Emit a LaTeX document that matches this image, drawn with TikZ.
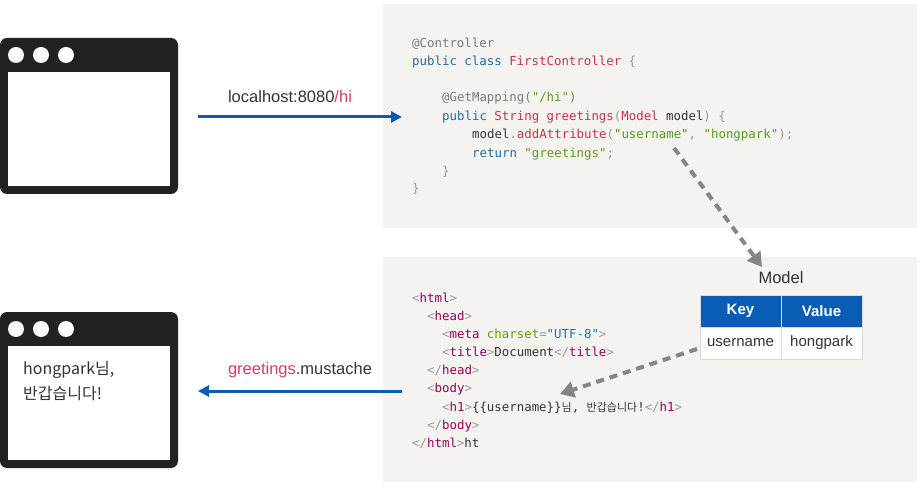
\documentclass[tikz,border=0pt]{standalone}
\usepackage{fontspec}
\setmonofont{DejaVu Sans Mono}
\setmainfont{Liberation Sans}
\newfontfamily\cjk{Noto Sans CJK KR}
\usetikzlibrary{arrows.meta}
\definecolor{panel}{HTML}{F4F3F0}
\definecolor{anno}{HTML}{7A7A7A}
\definecolor{kw}{HTML}{1F6FA0}
\definecolor{cls}{HTML}{C8324E}
\definecolor{strc}{HTML}{5A9A1E}
\definecolor{txt}{HTML}{333333}
\definecolor{punc}{HTML}{999999}
\definecolor{tagc}{HTML}{990055}
\definecolor{attrc}{HTML}{6E9A00}
\definecolor{valc}{HTML}{1F78A8}
\definecolor{arrblue}{HTML}{0B5CB0}
\definecolor{hdr}{HTML}{0A5DB5}
\definecolor{dgray}{HTML}{858585}
\definecolor{dark}{HTML}{222222}
\definecolor{pink}{HTML}{D63A6E}
\newcommand{\Kw}[1]{\textcolor{kw}{#1}}
\newcommand{\Cl}[1]{\textcolor{cls}{#1}}
\newcommand{\St}[1]{\textcolor{strc}{#1}}
\newcommand{\Pu}[1]{\textcolor{punc}{#1}}
\newcommand{\Tg}[1]{\textcolor{tagc}{#1}}
\newcommand{\At}[1]{\textcolor{attrc}{#1}}
\newcommand{\Va}[1]{\textcolor{valc}{#1}}
\newcommand{\Ko}[1]{{\cjk\fontsize{11}{15}\selectfont #1}}
\begin{document}
\begin{tikzpicture}[x=1pt,y=-1pt,
  code/.style={anchor=base west,inner sep=0pt,font=\ttfamily\fontsize{12.4}{15}\selectfont,text=txt},
  lbl/.style={inner sep=0pt,font=\fontsize{16.5}{20}\selectfont,text=txt},
  flow/.style={draw=arrblue,line width=3pt,-{Triangle[length=11pt,width=11pt]}},
  dasharrow/.style={draw=dgray,line width=4pt,dash pattern=on 8pt off 6pt,-{Triangle[length=14pt,width=16pt]}},
  cell/.style={draw=black!15,line width=0.8pt,minimum width=81pt,minimum height=32pt,inner sep=0pt,font=\fontsize{15}{18}\selectfont},
  dot/.style={circle,fill=white,minimum size=16pt,inner sep=0pt}]
\useasboundingbox (0,0) rectangle (924,489);
% panels
\fill[panel] (383,4) rectangle (917,228);
\fill[panel] (383,257) rectangle (917,482);
% browsers
\foreach \y in {38,312}{
  \fill[dark,rounded corners=7pt] (0,\y) rectangle (178,\y+156);
  \fill[white] (8,\y+34) rectangle (170,\y+148);
  \node[dot] at (16,\y+17) {};
  \node[dot] at (41,\y+17) {};
  \node[dot] at (66,\y+17) {};
}
\coordinate (br1) at (198,117);
\coordinate (br2) at (198,391);
\node[inner sep=0pt,anchor=base west,font=\cjk\fontsize{16}{20}\selectfont,text=txt] (bt1) at (23,374) {hongpark님,};
\node[inner sep=0pt,anchor=base west,font=\cjk\fontsize{16}{20}\selectfont,text=txt] (bt2) at (23,399) {반갑습니다!};
% top code
\node[code] (c1) at (412,48) {\textcolor{anno}{@Controller}};
\node[code] (c2) at (412,66) {\Kw{public} \Kw{class} \Cl{FirstController} \Pu{\{}};
\node[code] (c3) at (442,102) {\textcolor{anno}{@GetMapping(}\St{"/hi"}\textcolor{anno}{)}};
\node[code] (c4) at (442,121) {\Kw{public} \Cl{String} \Cl{greetings}\Pu{(}\Cl{Model} model\Pu{)} \Pu{\{}};
\node[code] (c5) at (472,139) {model\Pu{.}\Cl{addAttribute}\Pu{(}\St{"username"}\Pu{,} \St{"hongpark"}\Pu{);}};
\node[code] (c6) at (472,158) {\Kw{return} \St{"greetings"}\Pu{;}};
\node[code] (c7) at (442,176) {\Pu{\}}};
\node[code] (c8) at (412,193) {\Pu{\}}};
% bottom code
\node[code] (h1) at (412,302) {\Pu{<}\Tg{html}\Pu{>}};
\node[code] (h2) at (427,320) {\Pu{<}\Tg{head}\Pu{>}};
\node[code] (h3) at (442,338) {\Pu{<}\Tg{meta} \At{charset}\Pu{=}\Va{"UTF-8"}\Pu{>}};
\node[code] (h4) at (442,356) {\Pu{<}\Tg{title}\Pu{>}Document\Pu{</}\Tg{title}\Pu{>}};
\node[code] (h5) at (427,374) {\Pu{</}\Tg{head}\Pu{>}};
\node[code] (h6) at (427,392) {\Pu{<}\Tg{body}\Pu{>}};
\node[code] (h7) at (442,411) {\Pu{<}\Tg{h1}\Pu{>}\{\{username\}\}\Ko{님}, \Ko{반갑습니다}!\Pu{</}\Tg{h1}\Pu{>}};
\node[code] (h8) at (427,429) {\Pu{</}\Tg{body}\Pu{>}};
\node[code] (h9) at (412,447) {\Pu{</}\Tg{html}\Pu{>}ht};
% flow arrows
\coordinate (p1) at (402,117);
\coordinate (p2) at (402,391);
\draw[flow] (br1) -- (p1);
\draw[flow] (p2) -- (br2);
\node[lbl] (l1) at (290,97) {localhost:8080\textcolor{pink}{/hi}};
\node[lbl] (l2) at (300,370) {\textcolor{pink}{greetings}.mustache};
% model table
\node[lbl] (mt) at (781,278) {Model};
\node[cell,fill=hdr,text=white,font=\bfseries\fontsize{15}{18}\selectfont] (k) at (740.5,311) {Key};
\node[cell,fill=hdr,text=white,font=\bfseries\fontsize{15}{18}\selectfont] (v) at (821.5,311) {Value};
\node[cell,fill=white,text=txt] (ku) at (740.5,343) {username};
\node[cell,fill=white,text=txt] (vh) at (821.5,343) {hongpark};
% dashed arrows
\coordinate (d1) at (674,148);
\coordinate (d2) at (762,267);
\coordinate (d3) at (697,349);
\coordinate (d4) at (560,394);
\draw[dasharrow] (d1) -- (d2);
\draw[dasharrow] (d3) -- (d4);
\end{tikzpicture}
\end{document}
